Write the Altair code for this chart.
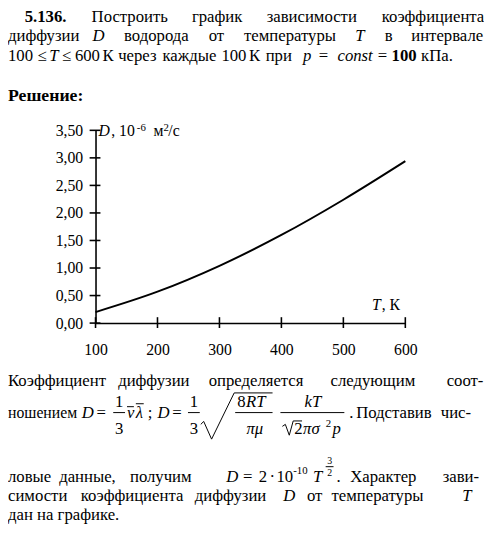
import altair as alt
import pandas as pd

# ---------------- chart data ----------------
T_values = [100, 200, 300, 400, 500, 600]
D_values = [0.20, 0.57, 1.04, 1.60, 2.24, 2.94]
x_tick_values = [100, 200, 300, 400, 500, 600]
y_tick_values = [0.0, 0.5, 1.0, 1.5, 2.0, 2.5, 3.0, 3.5]

# ---------------- layout ----------------
FONT = "Liberation Serif"
OX, OY = 97, 128          # page position of plot origin
W, H = 315, 196

# page texts: (text, x, baseline-y) in page pixels
top_normal = [
    ("Построить", 93, 18), ("график", 195, 18), ("зависимости", 271, 18), ("коэффициента", 388, 18),
    ("диффузии", 8, 37.5), ("водорода", 126, 37.5), ("от", 212, 37.5), ("температуры", 248, 37.5),
    ("в", 391, 37.5), ("интервале", 418, 37.5),
    ("100", 8, 57), ("≤", 38, 57), ("≤", 63, 57), ("600", 76, 57), ("К", 104, 57),
    ("через", 120, 57), ("каждые", 165, 57), ("100", 225, 57), ("К", 253, 57), ("при", 270, 57),
    ("=", 324, 57), ("=", 384, 57), ("кПа.", 428, 57),
]
top_italic = [("D", 94, 37.5), ("T", 361, 37.5), ("T", 50, 57), ("p", 308, 57), ("const", 343, 57)]
top_bold = [("5.136.", 25, 18), ("100", 398, 57)]
heading = [("Решение:", 8, 98)]

axis_normal = [(", 10", 113, 134), ("м", 156, 134), ("/с", 171, 134), (", К", 388, 311)]
axis_italic = [("D", 100, 134), ("T", 378, 311)]
axis_sup = [("-6", 139, 129), ("2", 166, 129)]

bot_normal = [
    ("Коэффициент", 8, 388), ("диффузии", 120, 388), ("определяется", 212, 388),
    ("следующим", 336, 388), ("соот-", 454, 388),
    ("=", 98, 420), (";", 150, 420), ("=", 175, 420),
    ("8", 241, 409), ("2", 299, 437), (".", 355, 420), ("Подставив", 362, 420), ("чис-", 448, 420),
    ("ловые", 8, 486), ("данные,", 60, 486), ("получим", 132, 486), ("=", 247, 486),
    ("2", 263, 486), ("·", 274, 486), ("10", 281, 486), (".", 342, 486),
    ("Характер", 356, 486), ("зави-", 450, 486),
    ("симости", 8, 505), ("коэффициента", 82, 505), ("диффузии", 198, 505),
    ("от", 312, 505), ("температуры", 337, 505),
    ("дан на графике.", 8, 524),
]
bot_small = [("ношением", 8, 420)]
bot_normal_center = [("1", 121, 409), ("3", 121, 437), ("1", 197, 409), ("3", 197, 437)]
bot_italic = [
    ("D", 83, 420), ("v", 129, 420), ("λ", 138, 420), ("D", 160, 420),
    ("RT", 250, 409), ("πσ", 308, 437), ("p", 338, 437),
    ("D", 230, 486), ("T", 318, 486), ("D", 288, 505), ("T", 470, 505),
]
bot_italic_center = [("πμ", 259, 437), ("kT", 318, 409)]
bot_sup = [("-10", 298, 477), ("2", 331, 430)]
bot_tiny_center = [("3", 335, 467), ("2", 335, 479)]

bars = [  # (x1, x2, y)
    (115, 127, 415), (191, 203, 415), (239, 277, 415), (285, 350, 415),
    (129, 136, 409), (138, 146, 406), (331, 339, 470),
]
radicals = {
    "big": [(204, 427), (207, 424), (215, 442), (238, 395), (277, 395)],
    "small": [(287, 429), (290, 427), (294, 438), (298, 423.5), (307, 423.5)],
}


def px(rows):
    return pd.DataFrame([{"t": t, "x": x - OX, "y": y - OY} for t, x, y in rows])


def text_layer(rows, size, style="normal", weight="normal", align="left"):
    return alt.Chart(px(rows)).mark_text(
        font=FONT, fontSize=size, fontStyle=style, fontWeight=weight,
        align=align, baseline="alphabetic", color="black",
    ).encode(
        x=alt.X("x:Q", scale=None, axis=None),
        y=alt.Y("y:Q", scale=None, axis=None),
        text="t:N",
    )


xscale = alt.Scale(domain=[100, 600], nice=False, zero=False)
yscale = alt.Scale(domain=[0, 3.5], nice=False, zero=True)

curve_df = pd.DataFrame({"T": T_values, "D": D_values})
curve = alt.Chart(curve_df).mark_line(
    color="black", strokeWidth=2, interpolate="monotone"
).encode(
    x=alt.X("T:Q", scale=xscale, axis=alt.Axis(
        values=x_tick_values, title=None, grid=False, ticks=False, tickSize=0,
        domainColor="black", domainWidth=1.6, labelFont=FONT, labelFontSize=16,
        labelColor="black", labelPadding=19, labelFlush=False, labelOverlap=False,
        format="d")),
    y=alt.Y("D:Q", scale=yscale, axis=alt.Axis(
        values=y_tick_values, title=None, grid=False, ticks=False, tickSize=0,
        domainColor="black", domainWidth=1.6, labelFont=FONT, labelFontSize=16,
        labelColor="black", labelPadding=13, labelFlush=False, labelOverlap=False,
        labelExpr="replace(format(datum.value, '.2f'), '.', ',')")),
)

xticks = alt.Chart(pd.DataFrame({"T": x_tick_values})).mark_rule(
    color="black", strokeWidth=1.6
).encode(
    x=alt.X("T:Q", scale=xscale, axis=None),
    y=alt.value(H - 6), y2=alt.value(H + 5),
)
yticks = alt.Chart(pd.DataFrame({"v": y_tick_values})).mark_rule(
    color="black", strokeWidth=1.6
).encode(
    y=alt.Y("v:Q", scale=yscale, axis=None),
    x=alt.value(-6), x2=alt.value(5),
)

bars_df = pd.DataFrame([{"x": a - OX, "x2": b - OX, "y": y - OY} for a, b, y in bars])
bar_layer = alt.Chart(bars_df).mark_rule(color="black", strokeWidth=1).encode(
    x=alt.X("x:Q", scale=None, axis=None), x2="x2:Q",
    y=alt.Y("y:Q", scale=None, axis=None),
)
rad_rows = []
for name, pts in radicals.items():
    for i, (x, y) in enumerate(pts):
        rad_rows.append({"id": name, "o": i, "x": x - OX, "y": y - OY})
rad_layer = alt.Chart(pd.DataFrame(rad_rows)).mark_line(color="black", strokeWidth=1).encode(
    x=alt.X("x:Q", scale=None, axis=None),
    y=alt.Y("y:Q", scale=None, axis=None),
    detail="id:N", order="o:Q",
)

layers = [
    curve, xticks, yticks,
    text_layer(top_normal, 17), text_layer(top_italic, 17, style="italic"),
    text_layer(top_bold, 17, weight="bold"), text_layer(heading, 18, weight="bold"),
    text_layer(axis_normal, 16), text_layer(axis_italic, 16, style="italic"),
    text_layer(axis_sup, 11),
    text_layer(bot_normal, 17), text_layer(bot_small, 16),
    text_layer(bot_normal_center, 17, align="center"),
    text_layer(bot_italic, 17, style="italic"),
    text_layer(bot_italic_center, 17, style="italic", align="center"),
    text_layer(bot_sup, 11), text_layer(bot_tiny_center, 10, align="center"),
    bar_layer, rad_layer,
]

chart = alt.layer(*layers).resolve_scale(x="independent", y="independent").properties(
    width=W, height=H,
    padding={"left": OX - 8, "top": OY - 8, "right": 484 - (OX - 8) - W, "bottom": 522 - (OY - 8) - H},
    autosize=alt.AutoSizeParams(type="none"),
    background="white",
).configure_view(stroke=None)

chart.save("out.html", embed_options={"renderer": "svg", "actions": False})
